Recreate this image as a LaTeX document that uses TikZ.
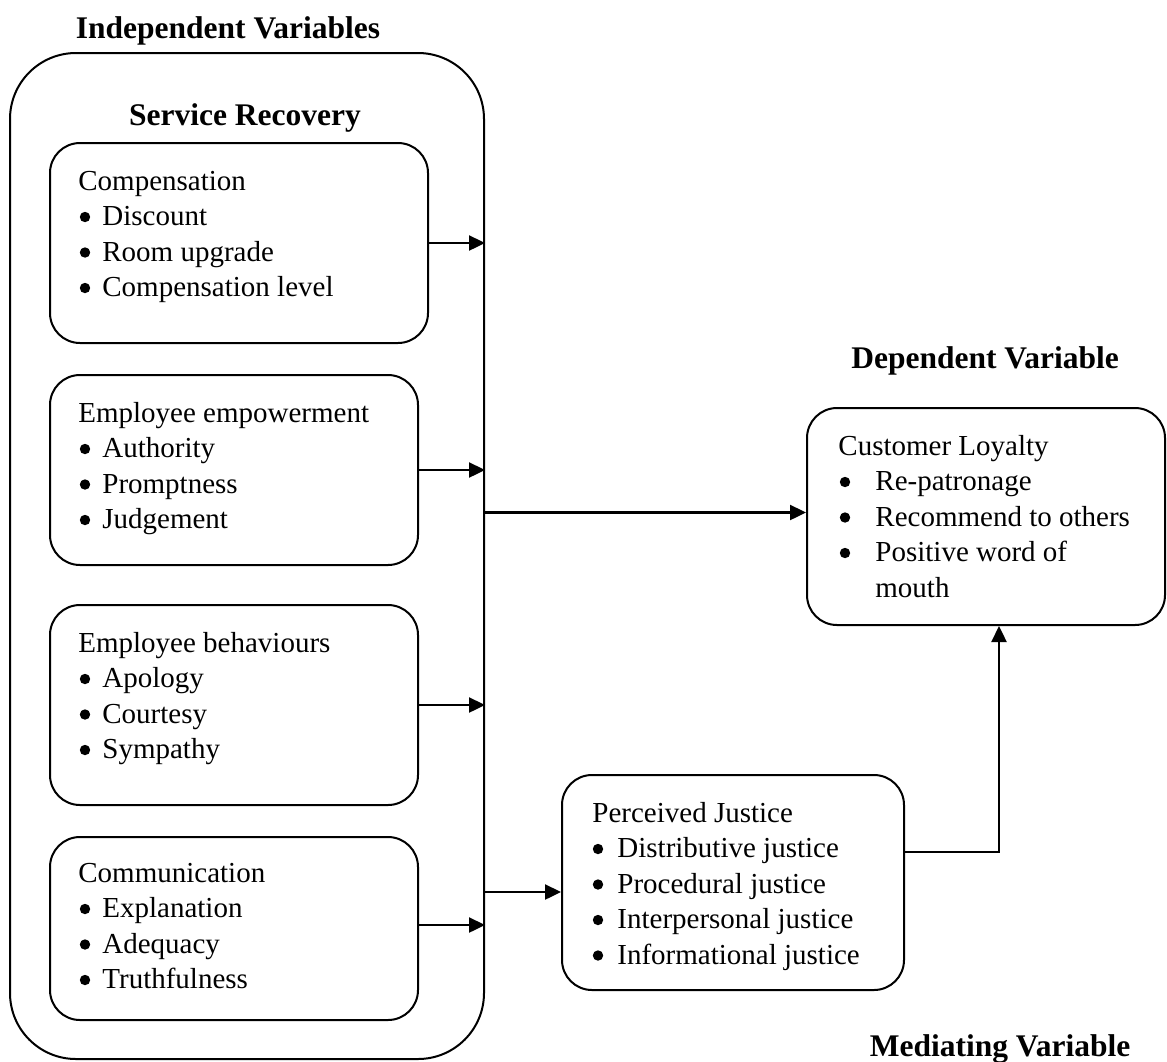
\documentclass[tikz,border=0pt]{standalone}
\usepackage{fontspec}
\setmainfont{Liberation Serif}
\usetikzlibrary{arrows.meta,calc}

% #1 name prefix, #2 x of heading, #3 x of bullet, #4 x of item text,
% #5 first baseline, #6 heading, #7 items
\newcommand\itemblock[7]{%
  \node[txt] (#1-0) at (#2,#5) {#6};
  \foreach \t [count=\i] in {#7} {
    \node[bul] (#1-b\i) at (#3,#5+35.5*\i-8.5) {};
    \node[txt] (#1-\i) at (#4,#5+35.5*\i) {\t};
  }}

\begin{document}
\begin{tikzpicture}[x=0.5pt,y=-0.5pt,
  box/.style={draw, line width=1pt, rounded corners=15pt, inner sep=0pt},
  arr/.style={-{Triangle[length=8pt,width=7.5pt]}, line width=1.2pt},
  txt/.style={anchor=base west, inner sep=0pt, font=\fontsize{14.5}{17.5}\selectfont},
  bul/.style={circle, fill, inner sep=0pt, minimum size=5.2pt},
  head/.style={anchor=base, inner sep=0pt, font=\fontsize{15.75}{18}\selectfont\bfseries}]
\useasboundingbox (0,0) rectangle (1167,1061);

% outer frame of the service recovery group
\node[box, rounded corners=33pt, minimum width=237pt, minimum height=503pt] (outer) at (247,556) {};

% four service recovery dimensions
\node[box, minimum width=189pt, minimum height=100pt] (b1) at (239,243) {};
\node[box, minimum width=184pt, minimum height=95pt] (b2) at (234,470) {};
\node[box, minimum width=184pt, minimum height=100pt] (b3) at (234,705) {};
\node[box, minimum width=184pt, minimum height=91.5pt] (b4) at (234,928.5) {};

% outcome and mediator
\node[box, minimum width=179pt, minimum height=108.5pt] (CL) at (986,516.5) {};
\node[box, minimum width=171pt, minimum height=107.5pt] (PJ) at (733,882.5) {};

% headings
\node[head] (h1) at (228,38) {Independent Variables};
\node[head] (h2) at (245,125) {Service Recovery};
\node[head] (h3) at (985,368) {Dependent Variable};
\node[head] (h4) at (1000,1056) {Mediating Variable};

% box contents
\itemblock{t1}{78}{85}{102}{190}{Compensation}{Discount,Room upgrade,Compensation level}
\itemblock{t2}{78}{85}{102}{422}{Employee empowerment}{Authority,Promptness,Judgement}
\itemblock{t3}{78}{85}{102}{652}{Employee behaviours}{Apology,Courtesy,Sympathy}
\itemblock{t4}{78}{85}{102}{882}{Communication}{Explanation,Adequacy,Truthfulness}
\itemblock{t5}{592}{598}{617}{822}{Perceived Justice}{Distributive justice,Procedural justice,Interpersonal justice,Informational justice}
\itemblock{t6}{838}{845}{875}{455}{Customer Loyalty}{Re-patronage,Recommend to others,Positive word of}
\node[txt] (t6-4) at (875,597) {mouth};

% connectors
\draw[arr] (b1.east) -- (b1.east -| outer.east);
\draw[arr] (b2.east) -- (b2.east -| outer.east);
\draw[arr] (b3.east) -- (b3.east -| outer.east);
\coordinate (b4out) at ($(b4.east)+(0,-3.5)$);
\draw[arr] (b4out) -- (b4out -| outer.east);
\coordinate (clin) at ($(CL.west)+(0,-4)$);
\draw[arr] (clin -| outer.east) -- (clin);
\coordinate (pjin) at ($(PJ.west)+(0,9.5)$);
\draw[arr] (pjin -| outer.east) -- (pjin);
\coordinate (pjout) at ($(PJ.east)+(0,-30.5)$);
\coordinate (clup) at ($(CL.south)+(13,0)$);
\draw[arr] (pjout) -- (pjout -| clup) -- (clup);
\end{tikzpicture}
\end{document}
